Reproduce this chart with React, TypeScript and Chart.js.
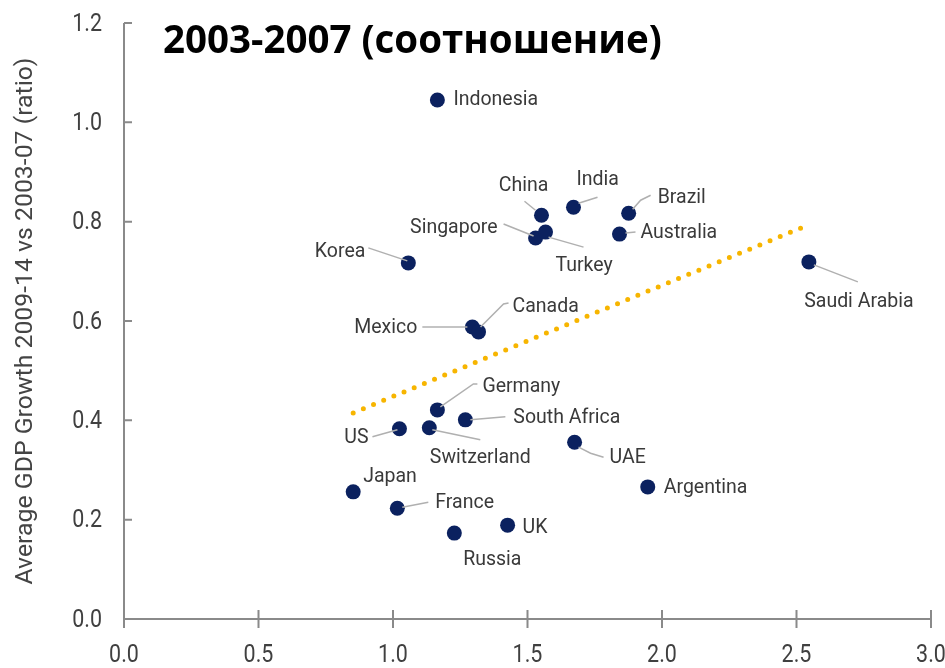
import React, { useEffect, useRef } from 'react';
import { Chart, registerables } from 'chart.js';

Chart.register(...registerables);

// ---------- data ----------
const countries = [
  'Indonesia', 'China', 'India', 'Brazil', 'Singapore', 'Turkey', 'Australia',
  'Korea', 'Saudi Arabia', 'Mexico', 'Canada', 'Germany', 'South Africa', 'US',
  'Switzerland', 'UAE', 'Argentina', 'Japan', 'France', 'UK', 'Russia',
];
const xValues = [
  1.165, 1.552, 1.671, 1.876, 1.530, 1.567, 1.842,
  1.057, 2.546, 1.295, 1.318, 1.165, 1.269, 1.024,
  1.135, 1.675, 1.947, 0.852, 1.016, 1.426, 1.228,
];
const yValues = [
  1.045, 0.813, 0.829, 0.817, 0.767, 0.779, 0.775,
  0.717, 0.719, 0.588, 0.578, 0.421, 0.401, 0.383,
  0.385, 0.356, 0.266, 0.256, 0.223, 0.189, 0.173,
];
const trendX = [0.852, 2.542];
const trendY = [0.415, 0.793];
const xTicks = [0, 0.5, 1.0, 1.5, 2.0, 2.5, 3.0];
const yTicks = [0, 0.2, 0.4, 0.6, 0.8, 1.0, 1.2];
const chartTitle = '2003-2007 (соотношение)';
const yAxisTitle = 'Average GDP Growth 2009-14 vs 2003-07 (ratio)';

// ---------- label layout (pixel offsets from each point) ----------
type Lay = { dx: number; dy: number; align: CanvasTextAlign; leader?: number[][] };
const labelLayout: Record<string, Lay> = {
  'Indonesia': { dx: 16, dy: 0, align: 'left' },
  'China': { dx: -18, dy: -29, align: 'center', leader: [[-17, -14], [-6, -5]] },
  'India': { dx: 3, dy: -27, align: 'left', leader: [[5, -4], [24, -10]] },
  'Brazil': { dx: 29, dy: -15, align: 'left', leader: [[4, -4], [12, -13], [22, -18]] },
  'Singapore': { dx: -38, dy: -10, align: 'right', leader: [[-32, -14], [-2, -2]] },
  'Turkey': { dx: 10, dy: 34, align: 'left', leader: [[3, 5], [38, 15]] },
  'Australia': { dx: 21, dy: -1, align: 'left', leader: [[6, -1], [16, -2]] },
  'Korea': { dx: -43, dy: -11, align: 'right', leader: [[-40, -15], [-1, -2]] },
  'Saudi Arabia': { dx: 50, dy: 40, align: 'center', leader: [[5, 3], [49, 20]] },
  'Mexico': { dx: -55, dy: 1, align: 'right', leader: [[-50, 0], [-5, 0]] },
  'Canada': { dx: 34, dy: -25, align: 'left', leader: [[2, -5], [25, -28], [30, -29]] },
  'Germany': { dx: 45, dy: -23, align: 'left', leader: [[3, -3], [36, -26], [40, -26]] },
  'South Africa': { dx: 48, dy: -2, align: 'left', leader: [[5, 0], [40, -3]] },
  'US': { dx: -31, dy: 9, align: 'right', leader: [[-27, 8], [-2, 1]] },
  'Switzerland': { dx: 51, dy: 30, align: 'center', leader: [[3, 2], [51, 12]] },
  'UAE': { dx: 35, dy: 16, align: 'left', leader: [[4, 5], [16, 11], [29, 15]] },
  'Argentina': { dx: 16, dy: 1, align: 'left' },
  'Japan': { dx: 10, dy: -15, align: 'left' },
  'France': { dx: 38, dy: -5, align: 'left', leader: [[5, -1], [31, -6]] },
  'UK': { dx: 15, dy: 3, align: 'left' },
  'Russia': { dx: 38, dy: 27, align: 'center' },
};

const AXIS_COLOR = '#8a8a8a';
const TICK_COLOR = '#404040';
const TICK_FONT = '26.5px Roboto, sans-serif';
const TICK_SQUEEZE = 0.81;

const overlayPlugin = {
  id: 'overlay',
  afterDatasetsDraw(chart: any) {
    const ctx = chart.ctx as CanvasRenderingContext2D;
    const meta = chart.getDatasetMeta(0);
    ctx.save();
    ctx.strokeStyle = '#b0b0b0';
    ctx.lineWidth = 1.5;
    meta.data.forEach((pt: any, i: number) => {
      const lay = labelLayout[countries[i]];
      if (!lay || !lay.leader) return;
      ctx.beginPath();
      lay.leader.forEach(([dx, dy], j) => {
        if (j === 0) ctx.moveTo(pt.x + dx, pt.y + dy);
        else ctx.lineTo(pt.x + dx, pt.y + dy);
      });
      ctx.stroke();
    });
    ctx.fillStyle = '#3a3a3a';
    ctx.font = '19.5px Roboto, sans-serif';
    ctx.textBaseline = 'middle';
    meta.data.forEach((pt: any, i: number) => {
      const lay = labelLayout[countries[i]];
      if (!lay) return;
      ctx.textAlign = lay.align;
      ctx.fillText(countries[i], pt.x + lay.dx, pt.y + lay.dy);
    });
    ctx.restore();
  },
  afterDraw(chart: any) {
    const ctx = chart.ctx as CanvasRenderingContext2D;
    const xs = chart.scales.x;
    const ys = chart.scales.y;
    const x0 = xs.getPixelForValue(0);
    const x1 = xs.getPixelForValue(3);
    const y0 = ys.getPixelForValue(0);
    const y1 = ys.getPixelForValue(1.2);
    ctx.save();
    ctx.strokeStyle = AXIS_COLOR;
    ctx.lineWidth = 2;
    ctx.beginPath();
    ctx.moveTo(x0, y1);
    ctx.lineTo(x0, y0 + 9);
    ctx.moveTo(x0, y0);
    ctx.lineTo(x1, y0);
    yTicks.forEach((v) => {
      if (v === 0) return;
      const y = ys.getPixelForValue(v);
      ctx.moveTo(x0, y);
      ctx.lineTo(x0 + 8, y);
    });
    xTicks.forEach((v) => {
      if (v === 0) return;
      const x = xs.getPixelForValue(v);
      ctx.moveTo(x, y0 - 9);
      ctx.lineTo(x, y0 + 9);
    });
    ctx.stroke();

    // tick labels (condensed)
    ctx.fillStyle = TICK_COLOR;
    ctx.font = TICK_FONT;
    ctx.textBaseline = 'middle';
    yTicks.forEach((v) => {
      const y = ys.getPixelForValue(v);
      ctx.save();
      ctx.translate(x0 - 22, y + 1);
      ctx.scale(TICK_SQUEEZE, 1);
      ctx.textAlign = 'right';
      ctx.fillText(v.toFixed(1), 0, 0);
      ctx.restore();
    });
    xTicks.forEach((v) => {
      const x = xs.getPixelForValue(v);
      ctx.save();
      ctx.translate(x, y0 + 36);
      ctx.scale(TICK_SQUEEZE, 1);
      ctx.textAlign = 'center';
      ctx.fillText(v.toFixed(1), 0, 0);
      ctx.restore();
    });

    // title
    ctx.fillStyle = '#000';
    ctx.font = 'bold 38.5px "Open Sans", sans-serif';
    ctx.textAlign = 'left';
    ctx.textBaseline = 'alphabetic';
    ctx.fillText(chartTitle, 163, 53);
    ctx.restore();
  },
};

export default function App() {
  const ref = useRef<HTMLCanvasElement | null>(null);
  useEffect(() => {
    if (!ref.current) return;
    const chart = new Chart(ref.current, {
      type: 'scatter',
      data: {
        datasets: [
          {
            label: 'Countries',
            data: xValues.map((x, i) => ({ x, y: yValues[i] })),
            backgroundColor: '#0b215f',
            borderColor: '#0b215f',
            pointRadius: 7.5,
            pointHoverRadius: 7.5,
            borderWidth: 0,
          },
          {
            label: 'Trend',
            data: trendX.map((x, i) => ({ x, y: trendY[i] })),
            showLine: true,
            pointRadius: 0,
            borderColor: '#f7b500',
            borderWidth: 5,
            borderDash: [0, 11],
            borderCapStyle: 'round',
            fill: false,
          } as any,
        ],
      },
      options: {
        animation: false,
        responsive: true,
        maintainAspectRatio: false,
        layout: { padding: { left: 0, right: 14, top: 23, bottom: 0 } },
        plugins: {
          legend: { display: false },
          tooltip: { enabled: false },
          title: { display: false },
        },
        scales: {
          x: {
            type: 'linear',
            min: 0,
            max: 3,
            afterBuildTicks: (scale: any) => {
              scale.ticks = xTicks.map((v) => ({ value: v }));
            },
            afterFit: (scale: any) => {
              scale.height = 49;
              scale.paddingLeft = 0;
              scale.paddingRight = 0;
            },
            grid: { display: false, drawTicks: false },
            border: { display: false },
            ticks: { display: false },
          },
          y: {
            type: 'linear',
            min: 0,
            max: 1.2,
            afterBuildTicks: (scale: any) => {
              scale.ticks = yTicks.map((v) => ({ value: v }));
            },
            afterFit: (scale: any) => {
              scale.width = 124;
              scale.paddingTop = 0;
              scale.paddingBottom = 0;
            },
            grid: { display: false, drawTicks: false },
            border: { display: false },
            title: {
              display: true,
              text: yAxisTitle,
              color: '#444',
              font: { family: 'Roboto, sans-serif', size: 24.8 },
              padding: { top: 11, bottom: 0 },
            },
            ticks: { display: false },
          },
        },
      },
      plugins: [overlayPlugin],
    });
    return () => chart.destroy();
  }, []);
  return (
    <div style={{ position: 'fixed', left: 0, top: 0, width: 945, height: 668, background: '#fff' }}>
      <canvas ref={ref} />
    </div>
  );
}
